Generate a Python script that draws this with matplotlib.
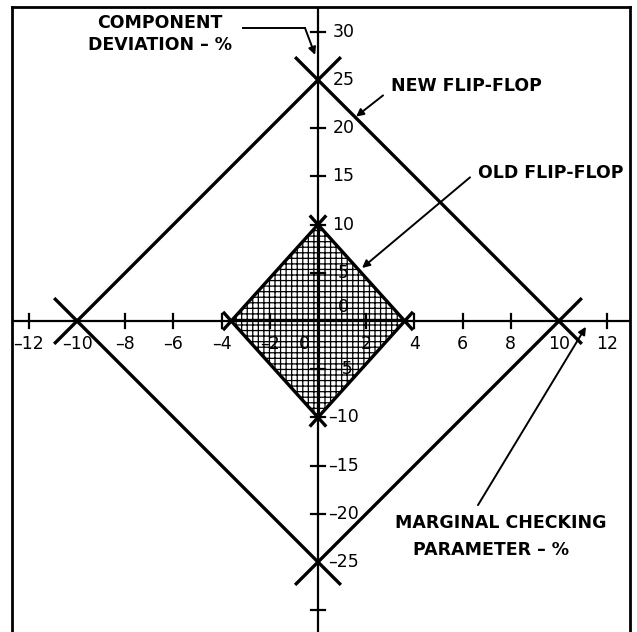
import numpy as np
import matplotlib
matplotlib.use("Agg")
import matplotlib.pyplot as plt
from matplotlib.patches import Polygon

# DATA ---------------------------------------------------------------------------------------------
# diamond vertices: (marginal checking parameter %, component deviation %)
new_x = [10, 0, -10, 0]
new_y = [0, 25, 0, -25]
old_x = [3.6, 0, -3.6, 0]
old_y = [0, 10, 0, -10]

x_ticks = [-12, -8, -6, -4, -2, 2, 4, 6, 8, 12]
x_labels = [-12, -10, -8, -6, -4, -2, 0, 2, 4, 6, 8, 10, 12]
y_ticks = [30, 20, 15, 10, 5, -5, -10, -15, -20, -30]
y_labels = [30, 25, 20, 15, 10, 5, 0, -5, -10, -15, -20, -25]

plt.rcParams['font.family'] = ['DejaVu Sans']
plt.rcParams['hatch.linewidth'] = 0.9


def draw_diamond(ax, xs, ys, ext=0.095, lw=2.4):
    """each edge drawn as a line that runs a little past both corners"""
    n = len(xs)
    for i in range(n):
        a = np.array([xs[i], ys[i]], float)
        b = np.array([xs[(i + 1) % n], ys[(i + 1) % n]], float)
        p0 = a - ext * (b - a)
        p1 = b + ext * (b - a)
        ax.plot([p0[0], p1[0]], [p0[1], p1[1]], color='black', lw=lw,
                solid_capstyle='butt', zorder=4)


# FIGURE -------------------------------------------------------------------------------------------
fig = plt.figure(figsize=(6.37, 6.32), dpi=100)
ax = fig.add_axes([12 / 637, 0, 618 / 637, 1 - 7 / 632])
ax.set_xlim(-12.70, 12.95)
ax.set_ylim(-32.26, 32.57)
ax.set_xticks([])
ax.set_yticks([])
for side in ['left', 'top', 'right']:
    ax.spines[side].set_linewidth(2.0)
ax.spines['bottom'].set_visible(False)

# axes through the origin
ax.axhline(0, color='black', lw=1.6, zorder=3)
ax.axvline(0, color='black', lw=1.6, zorder=3)

# tick marks crossing the axes
tx = 0.28   # half length in x units (for y ticks)
ty = 0.7    # half length in y units (for x ticks)
for t in x_ticks:
    ax.plot([t, t], [-ty, ty], color='black', lw=1.6, zorder=3)
for t in y_ticks:
    ax.plot([-tx, tx], [t, t], color='black', lw=1.6, zorder=3)

# old flip-flop: cross-hatched region
old_poly = Polygon(np.column_stack([old_x, old_y]), closed=True, facecolor='white',
                   edgecolor='black', hatch='+++', lw=0, zorder=2)
ax.add_patch(old_poly)

draw_diamond(ax, new_x, new_y)
draw_diamond(ax, old_x, old_y)

# tick labels
for v in x_labels:
    xo = -0.55 if v == 0 else 0
    ax.text(v + xo, -2.39, str(v).replace('-', '\u2013'), ha='center', va='center',
            fontsize=12.5, zorder=5)
for v in y_labels:
    yo = 1.45 if v == 0 else 0
    ax.text(1.05, v + yo, str(v).replace('-', '\u2013'), ha='center', va='center',
            fontsize=12.5, zorder=5)

# annotations
bold = dict(fontsize=12.5, fontweight='bold', zorder=5)
arrow = dict(arrowstyle='-|>', color='black', lw=1.4, mutation_scale=11,
             shrinkA=0, shrinkB=0)

ax.text(-6.56, 29.8, "COMPONENT\nDEVIATION \u2013 %", ha='center', va='center',
        multialignment='center', linespacing=1.3, **bold)
ax.plot([-3.11, -0.54], [30.4, 30.4], color='black', lw=1.4)
ax.annotate("", xy=(-0.12, 27.6), xytext=(-0.54, 30.4), arrowprops=arrow)

ax.text(3.03, 24.4, "NEW FLIP-FLOP", ha='left', va='center', **bold)
ax.annotate("", xy=(1.58, 21.2), xytext=(2.70, 23.4), arrowprops=arrow)

ax.text(6.64, 15.35, "OLD FLIP-FLOP", ha='left', va='center', **bold)
ax.annotate("", xy=(1.83, 5.5), xytext=(6.31, 14.9), arrowprops=arrow)

ax.text(3.2, -20.95, "MARGINAL CHECKING", ha='left', va='center', **bold)
ax.text(3.94, -23.75, "PARAMETER \u2013 %", ha='left', va='center', **bold)
ax.annotate("", xy=(11.12, -0.6), xytext=(6.64, -19.1), arrowprops=arrow)

fig.savefig("out.png", dpi=100)
